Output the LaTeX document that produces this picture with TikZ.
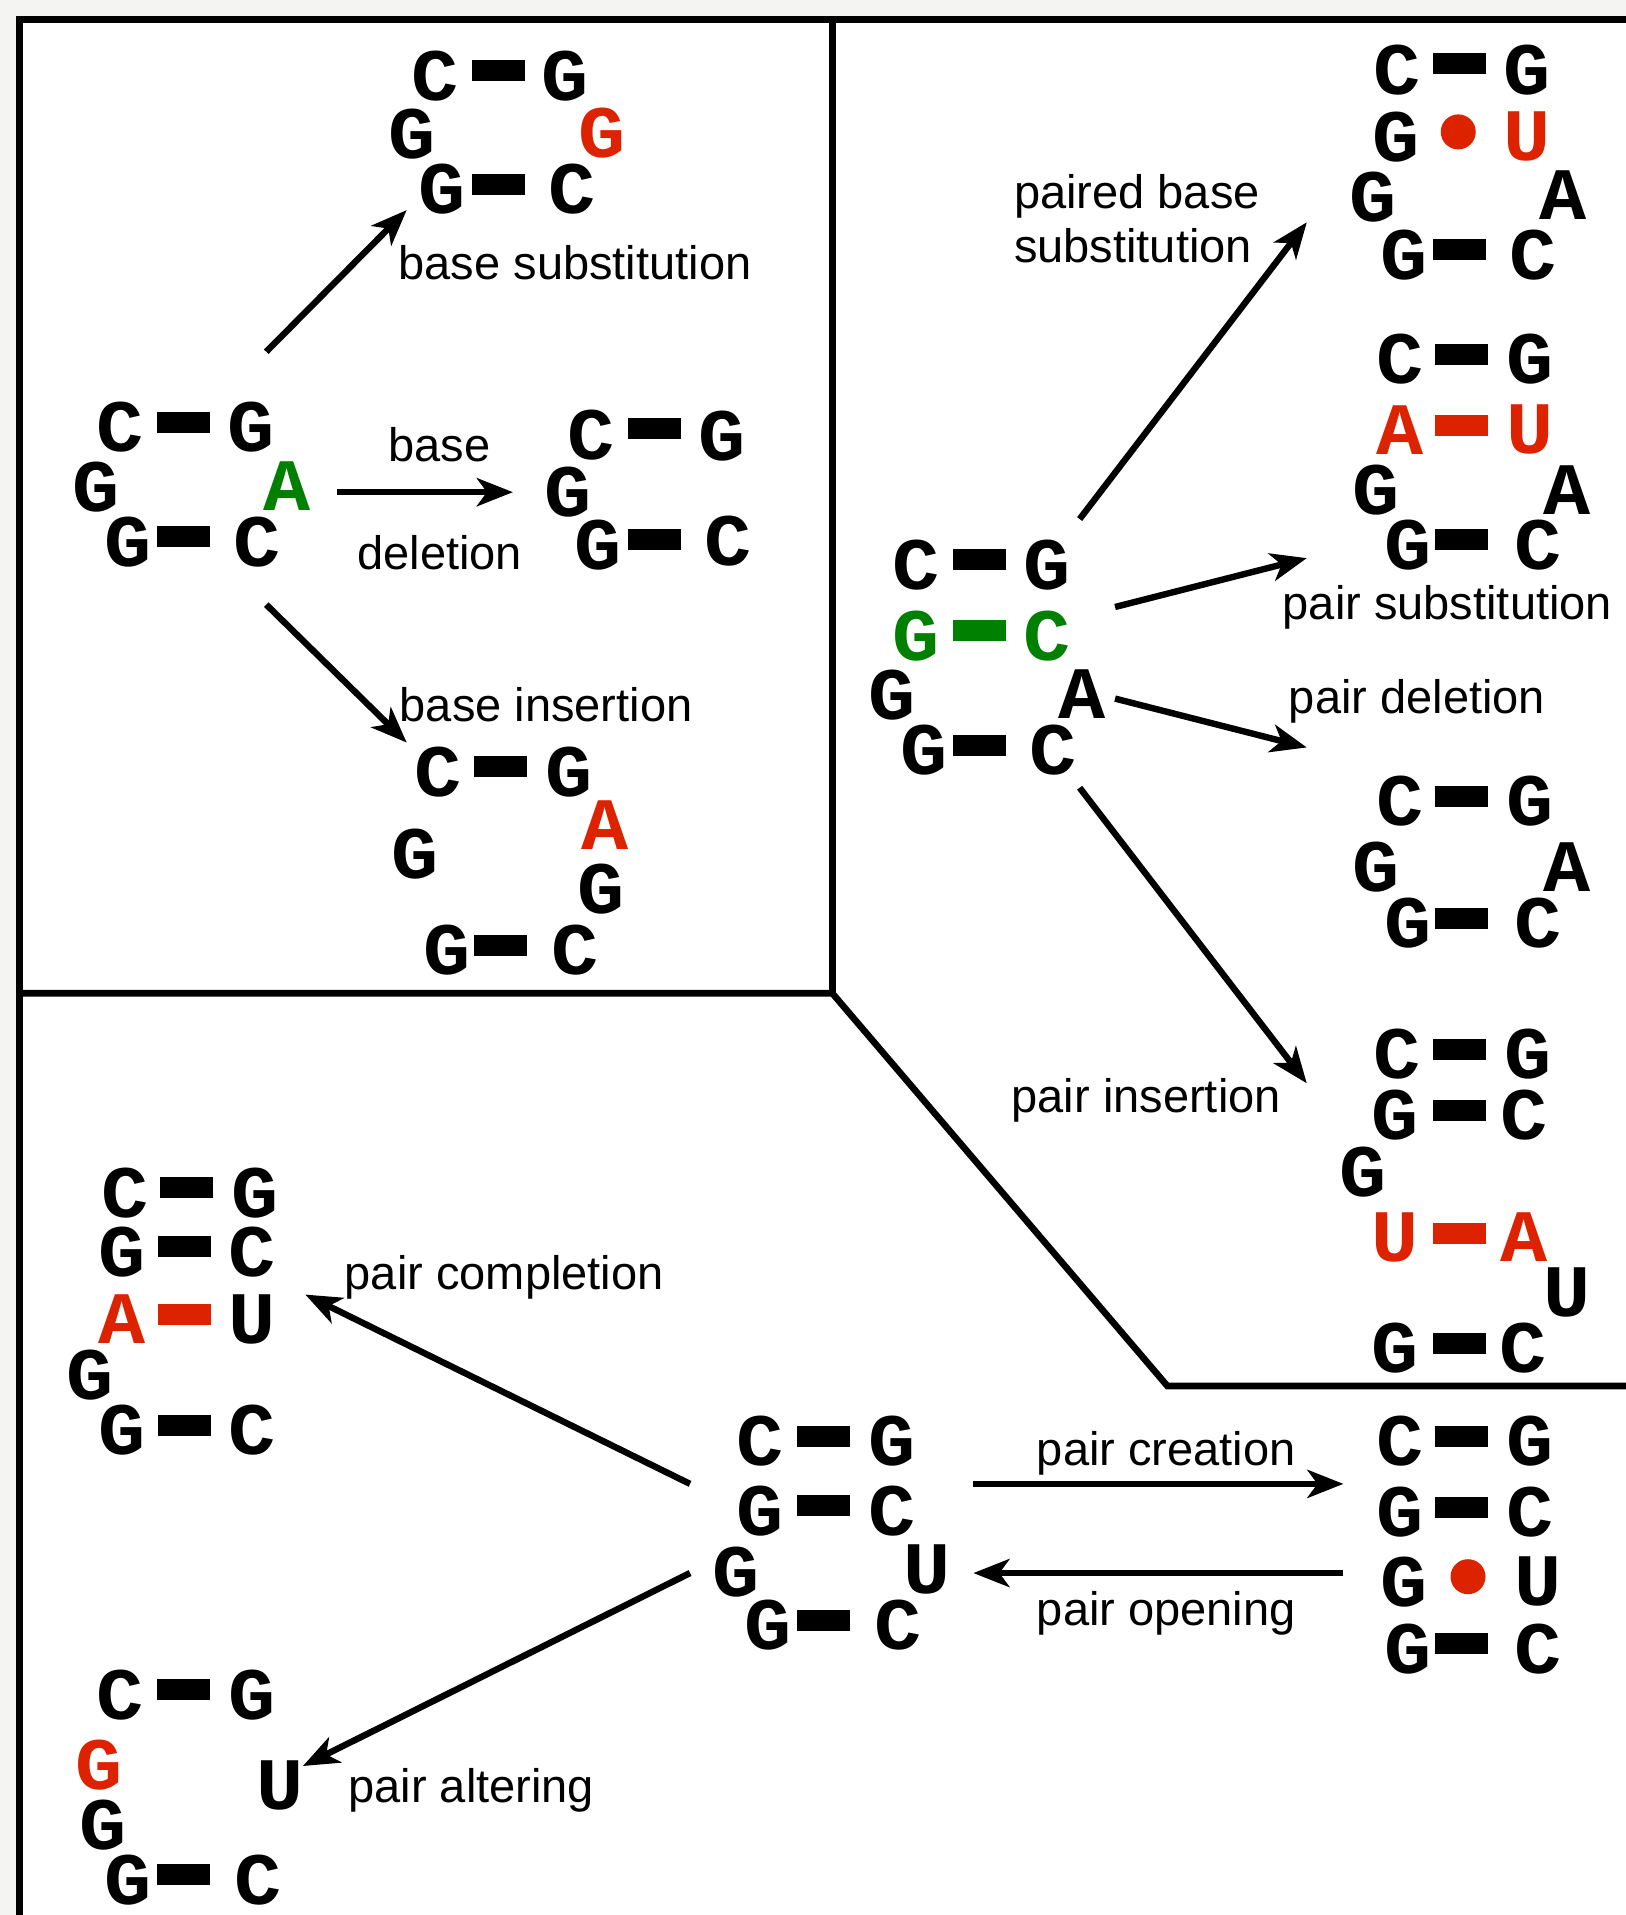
\documentclass[tikz,border=0pt]{standalone}
\usepackage{fontspec}
\setmainfont{Liberation Sans}
\newfontfamily\nucfont{Liberation Mono}[FakeStretch=1.06]
\usetikzlibrary{arrows.meta}
\definecolor{nred}{RGB}{221,34,0}
\definecolor{ngreen}{RGB}{0,128,0}
\definecolor{bggray}{RGB}{244,245,243}
\newcommand\NUC[5]{\node[#1] (#2) at (#3,#4) {#5};}
\newcommand\PB[4]{\node[#1] (#2) at (#3,#4) {};}
\begin{document}
\begin{tikzpicture}[x=0.61045pt,y=-0.61045pt,
  nuc/.style={inner sep=0pt, font=\nucfont\bfseries\fontsize{37}{37}\selectfont},
  nucR/.style={nuc,text=nred},
  nucG/.style={nuc,text=ngreen},
  pbar/.style={fill=black, inner sep=0pt, minimum width=26.5pt, minimum height=10.5pt},
  pbarR/.style={pbar,fill=nred},
  pbarG/.style={pbar,fill=ngreen},
  pdot/.style={circle, fill=nred, inner sep=0pt, minimum size=17.5pt},
  lbl/.style={inner sep=0pt, font=\fontsize{23.5}{28}\selectfont},
  arr/.style={line width=3.2pt, -{Stealth[length=18pt,width=14pt,inset=5pt]}},
  frameline/.style={line width=3.8pt, line join=miter},
  divline/.style={line width=3.3pt, line join=miter}]
\useasboundingbox (0,0) rectangle (1331,1568);
\fill[bggray] (0,0) rectangle (1331,1568);
\fill[white] (16,16) rectangle (1340,1580);
\draw[frameline] (16,1580) -- (16,16) -- (1340,16);
\draw[divline] (681.5,16) -- (681.5,813.3);
\draw[divline] (16,813.3) -- (681.5,813.3) -- (955.8,1134.8) -- (1340,1134.8);

% ---------- panel 1 : original
\NUC{nuc}{oaC1}{98}{350}{C}
\PB{pbar}{oaB1}{150.5}{346}
\NUC{nuc}{oaG1}{205.5}{350}{G}
\NUC{nuc}{oaG2}{79}{399}{G}
\NUC{nucG}{oaA}{235}{398}{A}
\NUC{nuc}{oaG3}{105}{444}{G}
\PB{pbar}{oaB2}{150.5}{439}
\NUC{nuc}{oaC2}{210.5}{444}{C}
% base substitution
\NUC{nuc}{sbC1}{356}{62}{C}
\PB{pbar}{sbB1}{408}{58}
\NUC{nuc}{sbG1}{463}{62}{G}
\NUC{nuc}{sbG2}{337}{110}{G}
\NUC{nucR}{sbG3}{493}{109}{G}
\NUC{nuc}{sbG4}{362}{155}{G}
\PB{pbar}{sbB2}{408}{151}
\NUC{nuc}{sbC2}{468}{155}{C}
% base deletion
\NUC{nuc}{bdC1}{484}{356}{C}
\PB{pbar}{bdB1}{536}{351}
\NUC{nuc}{bdG1}{591}{357}{G}
\NUC{nuc}{bdG2}{465}{403}{G}
\NUC{nuc}{bdG3}{490}{446}{G}
\PB{pbar}{bdB2}{536}{442}
\NUC{nuc}{bdC2}{596}{443}{C}
% base insertion
\NUC{nuc}{biC1}{359}{632}{C}
\PB{pbar}{biB1}{410}{628}
\NUC{nuc}{biG1}{466}{632}{G}
\NUC{nucR}{biA}{495}{676}{A}
\NUC{nuc}{biG2}{340}{699}{G}
\NUC{nuc}{biG3}{492}{728}{G}
\NUC{nuc}{biG4}{366}{778}{G}
\PB{pbar}{biB2}{410}{774}
\NUC{nuc}{biC2}{471}{778}{C}
% labels
\node[lbl, anchor=base west] (Lbs) at (326,229) {base substitution};
\node[lbl, anchor=base] (Lbd1) at (360,378) {base};
\node[lbl, anchor=base] (Lbd2) at (360,466) {deletion};
\node[lbl, anchor=base west] (Lbi) at (327,591) {base insertion};
% arrows
\coordinate (a1s) at (218,288); \coordinate (a1e) at (333,172);
\coordinate (a2s) at (276,403); \coordinate (a2e) at (420,403);
\coordinate (a3s) at (218,495); \coordinate (a3e) at (333,608);
\draw[arr] (a1s) -- (a1e);
\draw[arr] (a2s) -- (a2e);
\draw[arr] (a3s) -- (a3e);

% ---------- panel 2 : original
\NUC{nuc}{obC1}{750}{463}{C}
\PB{pbar}{obB1}{802}{458}
\NUC{nuc}{obG1}{857}{463}{G}
\NUC{nucG}{obG2}{750}{521}{G}
\PB{pbarG}{obB2}{802}{516}
\NUC{nucG}{obC2}{857}{521}{C}
\NUC{nuc}{obG3}{730}{569}{G}
\NUC{nuc}{obA}{886}{568}{A}
\NUC{nuc}{obG4}{757}{614}{G}
\PB{pbar}{obB3}{802}{610}
\NUC{nuc}{obC3}{862}{614}{C}
% paired base substitution
\NUC{nuc}{psC1}{1144}{57}{C}
\PB{pbar}{psB1}{1195}{52}
\NUC{nuc}{psG1}{1250}{57}{G}
\NUC{nuc}{psG2}{1143}{112}{G}
\node[pdot] (psD) at (1194,108) {};
\NUC{nucR}{psU}{1250}{112}{U}
\NUC{nuc}{psG3}{1124}{161}{G}
\NUC{nuc}{psA}{1280}{160}{A}
\NUC{nuc}{psG4}{1150}{209}{G}
\PB{pbar}{psB2}{1195}{204}
\NUC{nuc}{psC2}{1255}{209}{C}
% pair substitution
\NUC{nuc}{qsC1}{1146}{294}{C}
\PB{pbar}{qsB1}{1197}{290}
\NUC{nuc}{qsG1}{1253}{294}{G}
\NUC{nucR}{qsA1}{1146}{352}{A}
\PB{pbarR}{qsB2}{1197}{348}
\NUC{nucR}{qsU}{1253}{352}{U}
\NUC{nuc}{qsG2}{1127}{401}{G}
\NUC{nuc}{qsA2}{1283}{401}{A}
\NUC{nuc}{qsG3}{1153}{446}{G}
\PB{pbar}{qsB3}{1197}{442}
\NUC{nuc}{qsC2}{1259}{446}{C}
% pair deletion
\NUC{nuc}{pdC1}{1146}{656}{C}
\PB{pbar}{pdB1}{1197}{652}
\NUC{nuc}{pdG1}{1253}{656}{G}
\NUC{nuc}{pdG2}{1127}{710}{G}
\NUC{nuc}{pdA}{1283}{710}{A}
\NUC{nuc}{pdG3}{1153}{756}{G}
\PB{pbar}{pdB2}{1197}{752}
\NUC{nuc}{pdC2}{1259}{756}{C}
% pair insertion
\NUC{nuc}{piC1}{1144}{863}{C}
\PB{pbar}{piB1}{1195}{859}
\NUC{nuc}{piG1}{1251}{863}{G}
\NUC{nuc}{piG2}{1142}{913}{G}
\PB{pbar}{piB2}{1195}{909}
\NUC{nuc}{piC2}{1248}{913}{C}
\NUC{nuc}{piG3}{1116}{960}{G}
\NUC{nucR}{piU1}{1142}{1013}{U}
\PB{pbarR}{piB3}{1195}{1010}
\NUC{nucR}{piA}{1248}{1013}{A}
\NUC{nuc}{piU2}{1283}{1058}{U}
\NUC{nuc}{piG4}{1142}{1104}{G}
\PB{pbar}{piB4}{1195}{1100}
\NUC{nuc}{piC3}{1247}{1104}{C}
% labels
\node[lbl, anchor=base west] (Lpb1) at (830,171) {paired base};
\node[lbl, anchor=base west] (Lpb2) at (830,215) {substitution};
\node[lbl, anchor=base west] (Lps) at (1050,507) {pair substitution};
\node[lbl, anchor=base west] (Lpd) at (1055,584) {pair deletion};
\node[lbl, anchor=base west] (Lpi) at (828,911) {pair insertion};
% arrows
\coordinate (b1s) at (884,425); \coordinate (b1e) at (1070,182);
\coordinate (b2s) at (913,497); \coordinate (b2e) at (1070,457);
\coordinate (b3s) at (913,572); \coordinate (b3e) at (1070,612);
\coordinate (b4s) at (884,645); \coordinate (b4e) at (1070,887);
\draw[arr] (b1s) -- (b1e);
\draw[arr] (b2s) -- (b2e);
\draw[arr] (b3s) -- (b3e);
\draw[arr] (b4s) -- (b4e);

% ---------- panel 3 : original
\NUC{nuc}{ocC1}{622}{1180}{C}
\PB{pbar}{ocB1}{674}{1176}
\NUC{nuc}{ocG1}{730}{1180}{G}
\NUC{nuc}{ocG2}{622}{1237}{G}
\PB{pbar}{ocB2}{674}{1233}
\NUC{nuc}{ocC2}{730}{1237}{C}
\NUC{nuc}{ocG3}{603}{1287}{G}
\NUC{nuc}{ocU}{759}{1285}{U}
\NUC{nuc}{ocG4}{629}{1331}{G}
\PB{pbar}{ocB3}{674}{1327}
\NUC{nuc}{ocC3}{735}{1331}{C}
% pair completion
\NUC{nuc}{pcC1}{102}{977}{C}
\PB{pbar}{pcB1}{153}{972}
\NUC{nuc}{pcG1}{209}{977}{G}
\NUC{nuc}{pcG2}{100}{1025}{G}
\PB{pbar}{pcB2}{151}{1021}
\NUC{nuc}{pcC2}{206}{1025}{C}
\NUC{nucR}{pcA}{100}{1080}{A}
\PB{pbarR}{pcB3}{151}{1076}
\NUC{nuc}{pcU}{206}{1080}{U}
\NUC{nuc}{pcG3}{74}{1126}{G}
\NUC{nuc}{pcG4}{100}{1171}{G}
\PB{pbar}{pcB4}{151}{1167}
\NUC{nuc}{pcC3}{206}{1171}{C}
% pair altering
\NUC{nuc}{paC1}{98}{1388}{C}
\PB{pbar}{paB1}{150.5}{1383}
\NUC{nuc}{paG1}{206}{1388}{G}
\NUC{nucR}{paG2}{81}{1445}{G}
\NUC{nuc}{paU}{229}{1462}{U}
\NUC{nuc}{paG3}{84}{1494}{G}
\NUC{nuc}{paG4}{104.5}{1539.5}{G}
\PB{pbar}{paB2}{150.5}{1535}
\NUC{nuc}{paC2}{211}{1539.5}{C}
% pair creation
\NUC{nuc}{prC1}{1146}{1180}{C}
\PB{pbar}{prB1}{1197}{1176}
\NUC{nuc}{prG1}{1253}{1180}{G}
\NUC{nuc}{prG2}{1146}{1238}{G}
\PB{pbar}{prB2}{1197}{1234}
\NUC{nuc}{prC2}{1253}{1238}{C}
\NUC{nuc}{prG3}{1150}{1295}{G}
\node[pdot] (prD) at (1202,1291) {};
\NUC{nuc}{prU}{1259}{1295}{U}
\NUC{nuc}{prG4}{1153}{1350}{G}
\PB{pbar}{prB3}{1197}{1346}
\NUC{nuc}{prC3}{1259}{1350}{C}
% labels
\node[lbl, anchor=base west] (Lpc) at (282,1056) {pair completion};
\node[lbl, anchor=base west] (Lpa) at (285,1476) {pair altering};
\node[lbl, anchor=base] (Lpr) at (955,1200) {pair creation};
\node[lbl, anchor=base] (Lpo) at (955,1331) {pair opening};
% arrows
\coordinate (c1s) at (565,1215); \coordinate (c1e) at (250,1060);
\coordinate (c2s) at (565,1288); \coordinate (c2e) at (248,1446);
\coordinate (c3s) at (797,1215); \coordinate (c3e) at (1100,1215);
\coordinate (c4s) at (1100,1288); \coordinate (c4e) at (797,1288);
\draw[arr] (c1s) -- (c1e);
\draw[arr] (c2s) -- (c2e);
\draw[arr] (c3s) -- (c3e);
\draw[arr] (c4s) -- (c4e);
\end{tikzpicture}
\end{document}
